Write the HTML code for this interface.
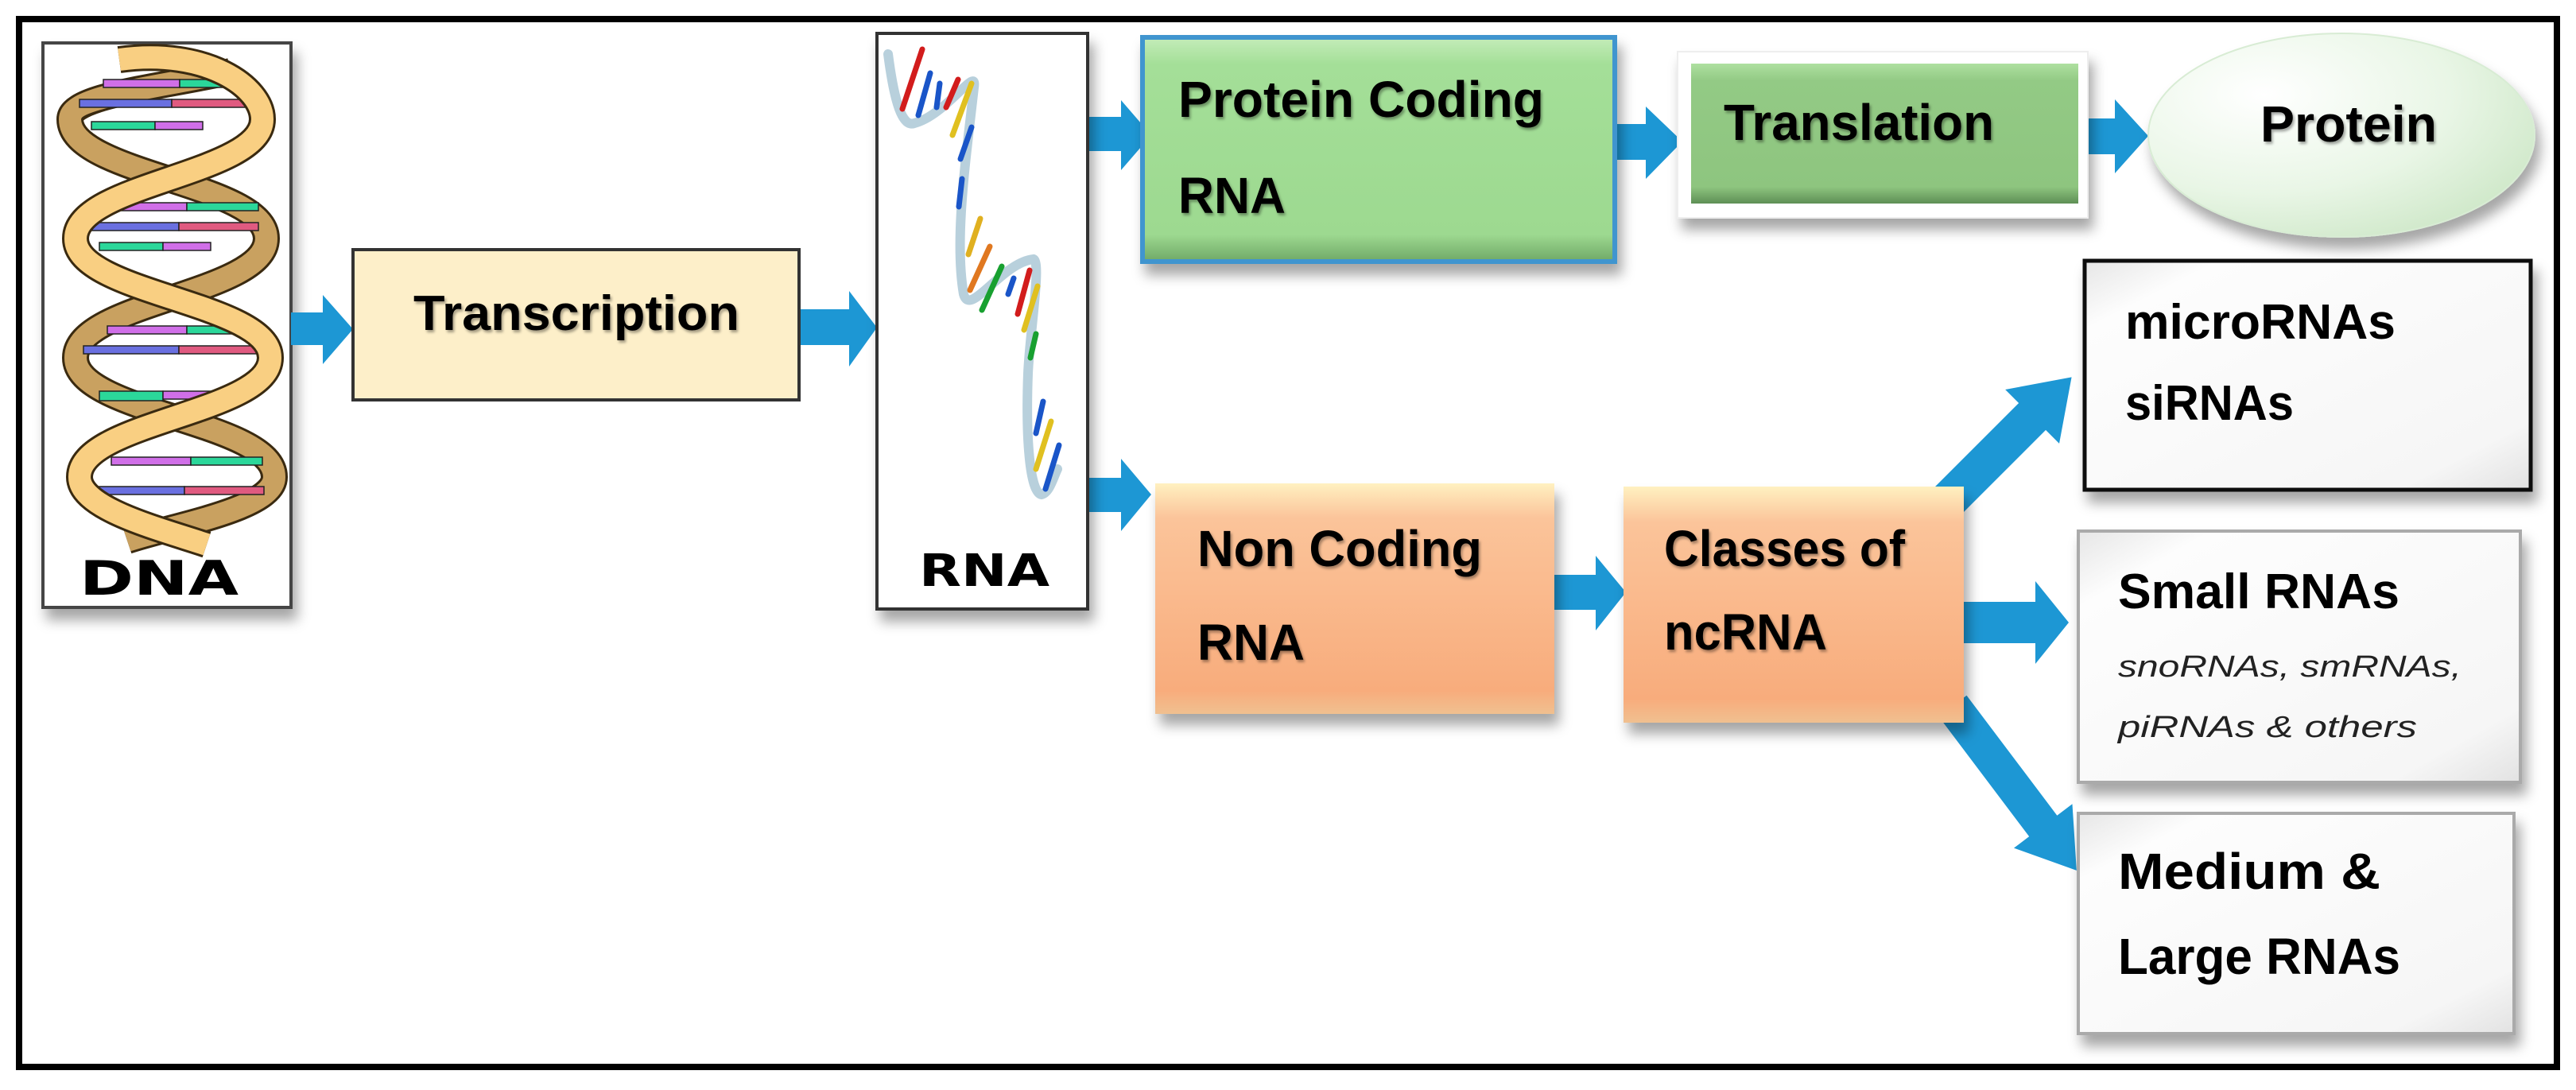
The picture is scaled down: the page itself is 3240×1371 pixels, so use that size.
<!DOCTYPE html>
<html><head><meta charset="utf-8"><style>
html,body{margin:0;padding:0;background:#fff;}
svg{display:block;}
text{font-family:"Liberation Sans",sans-serif;}
</style></head><body>
<svg width="3240" height="1371" viewBox="0 0 3240 1371" xmlns="http://www.w3.org/2000/svg">
<defs>
<filter id="sh" x="-10%" y="-10%" width="130%" height="140%"><feDropShadow dx="6" dy="14" stdDeviation="8" flood-color="#000" flood-opacity="0.35"/></filter>
<filter id="ts" x="-5%" y="-5%" width="115%" height="125%"><feDropShadow dx="2" dy="3" stdDeviation="1.5" flood-color="#000" flood-opacity="0.35"/></filter>
<linearGradient id="gG" x1="0" y1="0" x2="0" y2="1"><stop offset="0" stop-color="#c4ecb9"/><stop offset="0.12" stop-color="#a4df98"/><stop offset="0.88" stop-color="#9dd990"/><stop offset="1" stop-color="#6fa866"/></linearGradient>
<linearGradient id="gT" x1="0" y1="0" x2="0" y2="1"><stop offset="0" stop-color="#aee0a0"/><stop offset="0.12" stop-color="#93ca85"/><stop offset="0.88" stop-color="#8ec57f"/><stop offset="1" stop-color="#5e8f55"/></linearGradient>
<linearGradient id="gO" x1="0" y1="0" x2="0" y2="1"><stop offset="0" stop-color="#fff0c0"/><stop offset="0.15" stop-color="#fbc49a"/><stop offset="0.9" stop-color="#f8ac7c"/><stop offset="1" stop-color="#f0c090"/></linearGradient>
<linearGradient id="gW" x1="0" y1="0" x2="1" y2="1"><stop offset="0" stop-color="#e6e6e6"/><stop offset="0.15" stop-color="#fdfdfd"/><stop offset="0.85" stop-color="#f6f6f6"/><stop offset="1" stop-color="#e2e2e2"/></linearGradient>
<radialGradient id="gE" cx="0.3" cy="0.3" r="0.8"><stop offset="0" stop-color="#ffffff"/><stop offset="0.6" stop-color="#e9f6e6"/><stop offset="1" stop-color="#cfe8c9"/></radialGradient>
</defs>

<rect x="24" y="24" width="3192" height="1318" fill="none" stroke="#000" stroke-width="8"/>

<!-- DNA box -->
<rect x="54" y="54" width="312" height="710" fill="#fff" stroke="#444" stroke-width="4" filter="url(#sh)"/>
<path d="M290 90 C 200 110, 88 120, 88 150 C 88 220, 335 230, 335 300 C 335 370, 95 380, 95 450 C 95 520, 345 530, 345 600 C 345 640, 220 660, 160 680" fill="none" stroke="#3a2a10" stroke-width="34"/>
<path d="M290 90 C 200 110, 88 120, 88 150 C 88 220, 335 230, 335 300 C 335 370, 95 380, 95 450 C 95 520, 345 530, 345 600 C 345 640, 220 660, 160 680" fill="none" stroke="#c9a160" stroke-width="28"/>
<g stroke="#222" stroke-width="1.5">
<rect x="130" y="100" width="96" height="10" fill="#d06fe8"/><rect x="226" y="100" width="90" height="10" fill="#2bd79a"/>
<rect x="100" y="125" width="116" height="10" fill="#6a70e0"/><rect x="216" y="125" width="100" height="10" fill="#e05a80"/>
<rect x="115" y="153" width="80" height="10" fill="#2bd79a"/><rect x="195" y="153" width="60" height="10" fill="#d06fe8"/>
<rect x="135" y="255" width="100" height="10" fill="#d06fe8"/><rect x="235" y="255" width="90" height="10" fill="#2bd79a"/>
<rect x="105" y="280" width="120" height="10" fill="#6a70e0"/><rect x="225" y="280" width="100" height="10" fill="#e05a80"/>
<rect x="125" y="305" width="80" height="10" fill="#2bd79a"/><rect x="205" y="305" width="60" height="10" fill="#d06fe8"/>
<rect x="135" y="410" width="100" height="10" fill="#d06fe8"/><rect x="235" y="410" width="90" height="10" fill="#2bd79a"/>
<rect x="105" y="435" width="120" height="10" fill="#6a70e0"/><rect x="225" y="435" width="100" height="10" fill="#e05a80"/>
<rect x="125" y="492" width="80" height="12" fill="#2bd79a"/><rect x="205" y="492" width="60" height="10" fill="#d06fe8"/>
<rect x="140" y="575" width="100" height="10" fill="#d06fe8"/><rect x="240" y="575" width="90" height="10" fill="#2bd79a"/>
<rect x="110" y="612" width="122" height="10" fill="#6a70e0"/><rect x="232" y="612" width="100" height="10" fill="#e05a80"/>
</g>
<path d="M150 75 C 260 60, 330 110, 330 150 C 330 220, 95 230, 95 300 C 95 370, 340 380, 340 450 C 340 520, 100 530, 100 600 C 100 640, 200 665, 260 685" fill="none" stroke="#3a2a10" stroke-width="34"/>
<path d="M150 75 C 260 60, 330 110, 330 150 C 330 220, 95 230, 95 300 C 95 370, 340 380, 340 450 C 340 520, 100 530, 100 600 C 100 640, 200 665, 260 685" fill="none" stroke="#f9cf82" stroke-width="28"/>
<text x="200" y="748" text-anchor="middle" font-size="60" font-weight="900" fill="#000" style="font-family:'DejaVu Sans','Liberation Sans',sans-serif" textLength="200" lengthAdjust="spacingAndGlyphs">DNA</text>

<!-- arrows -->
<g fill="#1d97d4">
<polygon points="366,393 406,393 406,371 444,414 406,458 406,434 366,434"/>
<polygon points="1005,389 1068,389 1068,366 1103,412 1068,461 1068,434 1005,434"/>
<polygon points="1350,147 1410,147 1410,126 1448,170 1410,214 1410,190 1350,190"/>
<polygon points="1363,601 1410,601 1410,577 1448,622 1410,668 1410,644 1363,644"/>
<polygon points="2033,156 2070,156 2070,134 2116,178 2070,225 2070,201 2033,201"/>
<polygon points="2614,149 2660,149 2660,125 2702,171 2660,218 2660,194 2614,194"/>
<polygon points="1955,723 2007,723 2007,699 2045,745 2007,793 2007,767 1955,767"/>
<polygon points="2458,757 2560,757 2560,731 2602,783 2560,835 2560,809 2458,809"/>
<polygon transform="translate(2438,642) rotate(-45)" points="0,-24 167,-24 167,-48 237,0 167,48 167,24 0,24"/>
<polygon transform="translate(2456,888) rotate(53)" points="0,-22 189,-22 189,-46 259,0 189,46 189,22 0,22"/>
</g>

<!-- Transcription -->
<rect x="444" y="314" width="561" height="189" fill="#fdefc9" stroke="#333" stroke-width="4"/>
<text x="725" y="415" text-anchor="middle" font-size="62" font-weight="bold" fill="#000" filter="url(#ts)" textLength="410" lengthAdjust="spacingAndGlyphs">Transcription</text>

<!-- RNA box -->
<rect x="1103" y="42" width="265" height="724" fill="#fff" stroke="#333" stroke-width="4" filter="url(#sh)"/>
<path d="M1117 68 C 1125 130, 1135 160, 1150 155 C 1190 145, 1230 80, 1225 110 C 1215 200, 1200 300, 1212 370 C 1220 400, 1260 330, 1300 326 C 1310 330, 1295 420, 1293 470 C 1290 550, 1295 620, 1310 622 C 1320 620, 1325 600, 1330 590" fill="none" stroke="#b8d0dc" stroke-width="12" stroke-linecap="round"/>
<g stroke-width="7" stroke-linecap="round">
<line x1="1135" y1="137" x2="1160" y2="62" stroke="#d21c1c"/>
<line x1="1155" y1="145" x2="1170" y2="92" stroke="#1a55c8"/>
<line x1="1178" y1="135" x2="1182" y2="105" stroke="#1a55c8"/>
<line x1="1190" y1="135" x2="1205" y2="100" stroke="#d21c1c"/>
<line x1="1198" y1="170" x2="1222" y2="105" stroke="#e0c020"/>
<line x1="1208" y1="200" x2="1222" y2="160" stroke="#1a55c8"/>
<line x1="1206" y1="260" x2="1210" y2="225" stroke="#1a55c8"/>
<line x1="1218" y1="320" x2="1233" y2="275" stroke="#e0b020"/>
<line x1="1220" y1="365" x2="1245" y2="310" stroke="#e07820"/>
<line x1="1235" y1="390" x2="1260" y2="335" stroke="#18a030"/>
<line x1="1268" y1="370" x2="1275" y2="350" stroke="#1a55c8"/>
<line x1="1280" y1="395" x2="1295" y2="340" stroke="#d21c1c"/>
<line x1="1288" y1="415" x2="1305" y2="360" stroke="#e0c020"/>
<line x1="1296" y1="450" x2="1303" y2="420" stroke="#18a030"/>
<line x1="1303" y1="545" x2="1312" y2="505" stroke="#1a55c8"/>
<line x1="1303" y1="590" x2="1322" y2="530" stroke="#e0c020"/>
<line x1="1315" y1="615" x2="1332" y2="560" stroke="#1a55c8"/>
</g>
<text x="1238" y="737" text-anchor="middle" font-size="56" font-weight="900" fill="#000" style="font-family:'DejaVu Sans','Liberation Sans',sans-serif" textLength="164" lengthAdjust="spacingAndGlyphs">RNA</text>

<!-- Protein Coding RNA -->
<rect x="1437" y="47" width="594" height="282" fill="url(#gG)" stroke="#3f95cf" stroke-width="6" filter="url(#sh)"/>
<text x="1482" y="147" font-size="64" font-weight="bold" fill="#000" filter="url(#ts)" textLength="460" lengthAdjust="spacingAndGlyphs">Protein Coding</text>
<text x="1482" y="268" font-size="64" font-weight="bold" fill="#000" filter="url(#ts)" textLength="135" lengthAdjust="spacingAndGlyphs">RNA</text>

<!-- Translation -->
<rect x="2110" y="65" width="516" height="209" fill="#fff" stroke="#eee" stroke-width="2" filter="url(#sh)"/>
<rect x="2127" y="80" width="487" height="176" fill="url(#gT)"/>
<text x="2168" y="176" font-size="64" font-weight="bold" fill="#000" filter="url(#ts)" textLength="340" lengthAdjust="spacingAndGlyphs">Translation</text>

<!-- Protein ellipse -->
<ellipse cx="2945" cy="170" rx="243" ry="128" fill="url(#gE)" stroke="#d8ecd4" stroke-width="2" filter="url(#sh)"/>
<text x="2843" y="178" font-size="64" font-weight="bold" fill="#000" filter="url(#ts)" textLength="222" lengthAdjust="spacingAndGlyphs">Protein</text>

<!-- Non Coding RNA -->
<rect x="1453" y="608" width="502" height="290" fill="url(#gO)" filter="url(#sh)"/>
<text x="1506" y="712" font-size="64" font-weight="bold" fill="#000" filter="url(#ts)" textLength="358" lengthAdjust="spacingAndGlyphs">Non Coding</text>
<text x="1506" y="830" font-size="64" font-weight="bold" fill="#000" filter="url(#ts)" textLength="135" lengthAdjust="spacingAndGlyphs">RNA</text>

<!-- Classes of ncRNA -->
<rect x="2042" y="612" width="428" height="297" fill="url(#gO)" filter="url(#sh)"/>
<text x="2093" y="712" font-size="64" font-weight="bold" fill="#000" filter="url(#ts)" textLength="303" lengthAdjust="spacingAndGlyphs">Classes of</text>
<text x="2093" y="817" font-size="64" font-weight="bold" fill="#000" filter="url(#ts)" textLength="205" lengthAdjust="spacingAndGlyphs">ncRNA</text>

<!-- microRNAs siRNAs -->
<rect x="2622" y="328" width="561" height="288" fill="url(#gW)" stroke="#111" stroke-width="5" filter="url(#sh)"/>
<text x="2673" y="426" font-size="62" font-weight="bold" fill="#000" textLength="340" lengthAdjust="spacingAndGlyphs">microRNAs</text>
<text x="2673" y="528" font-size="62" font-weight="bold" fill="#000" textLength="212" lengthAdjust="spacingAndGlyphs">siRNAs</text>

<!-- Small RNAs -->
<rect x="2614" y="668" width="556" height="316" fill="url(#gW)" stroke="#aaa" stroke-width="4" filter="url(#sh)"/>
<text x="2664" y="765" font-size="62" font-weight="bold" fill="#000" textLength="354" lengthAdjust="spacingAndGlyphs">Small RNAs</text>
<text x="2664" y="851" font-size="38" font-style="italic" fill="#222" textLength="432" lengthAdjust="spacingAndGlyphs">snoRNAs, smRNAs,</text>
<text x="2664" y="927" font-size="38" font-style="italic" fill="#222" textLength="376" lengthAdjust="spacingAndGlyphs">piRNAs &amp; others</text>

<!-- Medium & Large -->
<rect x="2614" y="1023" width="548" height="277" fill="url(#gW)" stroke="#aaa" stroke-width="4" filter="url(#sh)"/>
<text x="2664" y="1118" font-size="64" font-weight="bold" fill="#000" textLength="330" lengthAdjust="spacingAndGlyphs">Medium &amp;</text>
<text x="2664" y="1225" font-size="64" font-weight="bold" fill="#000" textLength="355" lengthAdjust="spacingAndGlyphs">Large RNAs</text>
</svg>
</body></html>
